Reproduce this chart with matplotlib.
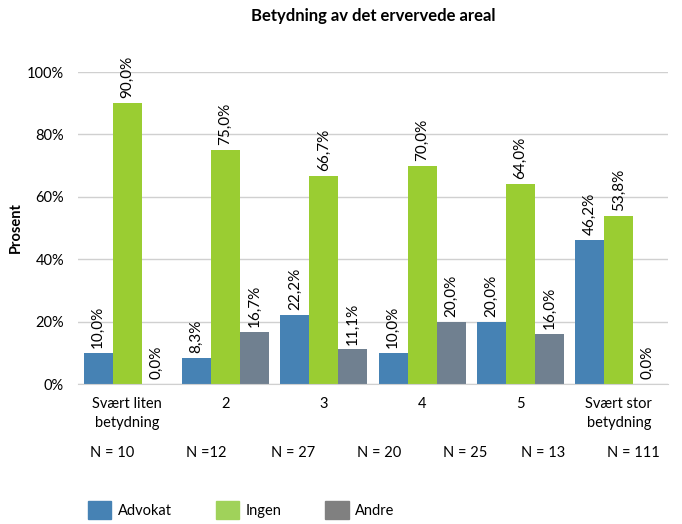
import numpy as np
import matplotlib.pyplot as plt
from matplotlib.patches import Patch

plt.rcParams['font.family'] = ['Lato', 'DejaVu Sans']

categories = ['Svært liten\nbetydning', '2', '3', '4', '5', 'Svært stor\nbetydning']
n_labels = ['N = 10', 'N =12', 'N = 27', 'N = 20', 'N = 25', 'N = 13', 'N = 111']
series = ['Advokat', 'Ingen', 'Andre']
advokat = [10.0, 8.3, 22.2, 10.0, 20.0, 46.2]
ingen = [90.0, 75.0, 66.7, 70.0, 64.0, 53.8]
andre = [0.0, 16.7, 11.1, 20.0, 16.0, 0.0]

bar_colors = ['#4682B4', '#9ACD32', '#708090']
legend_colors = ['#4682B4', '#A0D25A', '#808080']

fs = 10.5

fig = plt.figure(figsize=(6.82, 5.24), dpi=100)
ax = fig.add_axes([78 / 682, 1 - 384 / 524, 590 / 682, 312 / 524])

x = np.arange(len(categories))
w = 0.295
for k, vals in enumerate([advokat, ingen, andre]):
    pos = x + (k - 1) * w
    ax.bar(pos, vals, width=w, color=bar_colors[k], zorder=2)
    for p, v in zip(pos, vals):
        ax.annotate(f'{v:.1f}%'.replace('.', ','), (p, v), xytext=(0, 3.5),
                    textcoords='offset points', rotation=90, ha='center',
                    va='bottom', fontsize=11, color='#000000')

ax.set_xlim(-0.5, len(categories) - 0.5)
ax.set_ylim(0, 100)
ax.set_yticks(range(0, 101, 20))
ax.set_yticklabels([f'{t}%' for t in range(0, 101, 20)], fontsize=fs)
ax.yaxis.grid(True, color='#D0D0D0', linewidth=1, zorder=0)
ax.set_xticks(x)
ax.set_xticklabels(categories, fontsize=fs, linespacing=1.5)
ax.tick_params(axis='both', length=0)
ax.tick_params(axis='x', pad=9)
ax.tick_params(axis='y', pad=10)
for s in ['top', 'right', 'left']:
    ax.spines[s].set_visible(False)
ax.spines['bottom'].set_color('#D0D0D0')

ax.set_ylabel('Prosent', fontsize=fs, fontweight='bold')
ax.yaxis.set_label_coords(-55 / 590, 0.5)
ax.set_title('Betydning av det ervervede areal', fontsize=12, fontweight='bold', pad=37)

n_x = [112, 206, 293, 379, 465, 543, 633]
for nx, lab in zip(n_x, n_labels):
    fig.text(nx / 682, 1 - 453 / 524, lab, ha='center', va='center', fontsize=fs)

handles = [Patch(color=c, label=s) for c, s in zip(legend_colors, series)]
fig.legend(handles=handles, loc='center left', bbox_to_anchor=(75 / 682, 1 - 510 / 524),
           ncol=3, frameon=False, fontsize=fs, handlelength=1.6, handleheight=1.5,
           handletextpad=0.45, columnspacing=3.0)

fig.savefig('out.png', dpi=100)
